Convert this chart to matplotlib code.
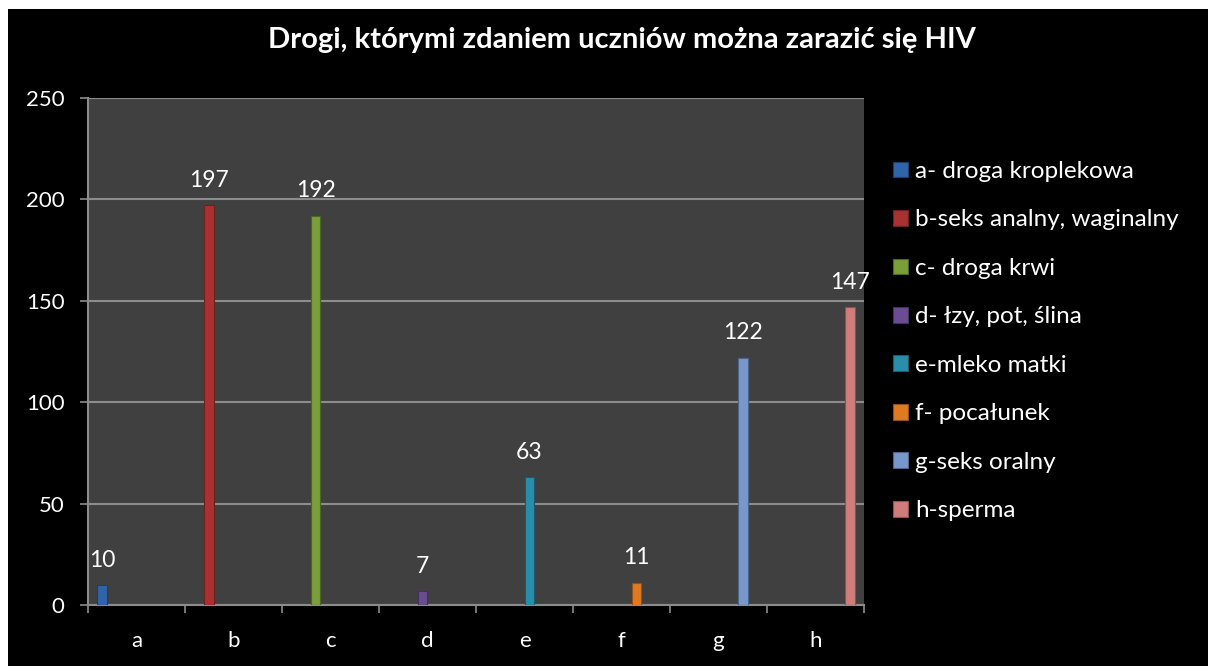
import matplotlib
matplotlib.use("Agg")
import matplotlib.pyplot as plt
from matplotlib.patches import Rectangle
import numpy as np

categories = ["a", "b", "c", "d", "e", "f", "g", "h"]
values = [10, 197, 192, 7, 63, 11, 122, 147]
series_labels = [
    "a- droga kroplekowa",
    "b-seks analny, waginalny",
    "c- droga krwi",
    "d- łzy, pot, ślina",
    "e-mleko matki",
    "f- pocałunek",
    "g-seks oralny",
    "h-sperma",
]
colors = ["#2f64a8", "#a83232", "#7a9e3a", "#6a4c92", "#2a8eaa", "#e07a22", "#7898cc", "#cf7c7a"]
edge_colors = ["#1c3e6c", "#6e1f1f", "#4d6624", "#43305e", "#1a5c6e", "#93501a", "#4e6589", "#8a5250"]
yticks = [0, 50, 100, 150, 200, 250]
title = "Drogi, którymi zdaniem uczniów można zarazić się HIV"

plt.rcParams["font.family"] = ["Lato", "DejaVu Sans"]

W, H = 1208, 666
fig = plt.figure(figsize=(W / 100, H / 100), dpi=100, facecolor="white")
fig.patches.append(Rectangle((8 / W, 0), 1 - 8 / W, (H - 9) / H, transform=fig.transFigure,
                             facecolor="black", edgecolor="none", zorder=-10))

ax = fig.add_axes([88 / W, 61 / H, 776 / W, 507 / H])
ax.set_facecolor("#404040")

n = len(categories)
slot = 0.102
for i, (v, lab) in enumerate(zip(values, series_labels)):
    x = i + (i - (n - 1) / 2) * slot
    ax.bar([x], [v], width=slot * 0.97, color=colors[i], edgecolor=edge_colors[i],
           linewidth=0.8, label=lab, zorder=3)
    ax.text(x, v + 7, str(v), ha="center", va="bottom", color="white", fontsize=16.5, zorder=4)

ax.set_xlim(-0.5, n - 0.5)
ax.set_ylim(0, 250)
ax.set_yticks(yticks)
ax.set_yticklabels([str(t) for t in yticks])
ax.set_xticks(np.arange(n))
ax.set_xticklabels(categories)
ax.set_xticks(np.arange(n + 1) - 0.5, minor=True)
ax.tick_params(axis="x", which="major", length=0, pad=19, colors="white", labelsize=16)
ax.tick_params(axis="x", which="minor", length=6, width=1.2, color="#8c8c8c", direction="out")
ax.tick_params(axis="y", length=6, width=1.2, color="#8c8c8c", pad=11, labelcolor="white", labelsize=16)
ax.grid(axis="y", color="#8c8c8c", linewidth=1.5, zorder=1)
ax.set_axisbelow(True)
for side in ["top", "right"]:
    ax.spines[side].set_visible(False)
for side in ["left", "bottom"]:
    ax.spines[side].set_color("#8c8c8c")
    ax.spines[side].set_linewidth(1.5)

fig.text(622 / W, 1 - 40 / H, title, ha="center", va="center", color="white",
         fontsize=21, fontweight="bold")

leg = fig.legend(loc="upper left", bbox_to_anchor=(893 / W, 1 - 161 / H), frameon=False,
                 fontsize=17.5, labelcolor="white", handlelength=0.62, handleheight=0.62,
                 handletextpad=0.3, labelspacing=1.13, borderaxespad=0, borderpad=0)

fig.savefig("out.png", dpi=100, facecolor=fig.get_facecolor())
